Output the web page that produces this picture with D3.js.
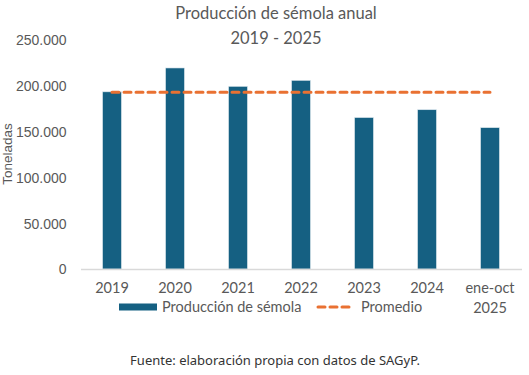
<!DOCTYPE html>
<html>
<head>
<meta charset="utf-8">
<script src="https://cdn.jsdelivr.net/npm/d3@7"></script>
<style>
body { margin: 0; background: #fff; }
text { font-family: Lato, "Noto Sans", sans-serif; }
</style>
</head>
<body>
<div id="chart"></div>
<script>
// DATA -----------------------------------------------------
var categories = ["2019", "2020", "2021", "2022", "2023", "2024", "ene-oct 2025"];
var produccion = [193000, 219000, 199000, 205500, 165000, 173500, 154000];
var promedio = [192600, 192600, 192600, 192600, 192600, 192600, 192600];
var yTicks = [0, 50000, 100000, 150000, 200000, 250000];

// STRUCTURE ------------------------------------------------
var W = 529, H = 375;
var plotLeft = 80.5, plotRight = 521.5, plotTop = 39.5, plotBottom = 269;
var color_bar = "#156082", color_avg = "#E97132", color_text = "#595959";

var svg = d3.select("#chart").append("svg")
.attr("width", W)
.attr("height", H);

var x = d3.scaleBand()
.domain(categories)
.range([plotLeft, plotRight])
.paddingInner(0.7)
.paddingOuter(0.35);

var y = d3.scaleLinear()
.domain([0, 250000])
.range([plotBottom, plotTop]);

var fmt = function(d) { return d3.format(",")(d).replace(/,/g, "."); };

// Y axis (labels only)
svg.append("g")
.attr("transform", "translate(" + (plotLeft - 14) + ",0)")
.call(d3.axisLeft(y).tickValues(yTicks).tickSize(0).tickFormat(fmt))
.call(function(g) {
g.select(".domain").remove();
g.selectAll("text")
.attr("x", 0)
.attr("dy", "0.35em")
.style("font-size", "14px")
.style("font-family", "'Liberation Sans', Arial, sans-serif")
.style("fill", color_text);
});

// bars
svg.append("g").selectAll("rect")
.data(produccion)
.enter()
.append("rect")
.attr("x", function(d, i) { return x(categories[i]); })
.attr("y", function(d) { return y(d); })
.attr("width", x.bandwidth())
.attr("height", function(d) { return y(0) - y(d); })
.style("fill", color_bar)
.style("stroke", "#dfe9ef")
.style("stroke-width", 0.6);

// X axis
svg.append("g")
.attr("transform", "translate(0," + plotBottom + ")")
.call(d3.axisBottom(x).tickSize(0).tickSizeOuter(0))
.call(function(g) {
g.select(".domain").attr("stroke", "#d9d9d9").attr("stroke-width", 1.3);
g.selectAll(".tick text").remove();
g.selectAll(".tick").each(function(d) {
var t = d3.select(this).append("text")
.attr("y", 24)
.attr("text-anchor", "middle")
.style("font-size", "14.5px")
.style("fill", color_text);
var parts = d.split(" ");
parts.forEach(function(p, k) {
t.append("tspan").attr("x", 0).attr("dy", k === 0 ? 0 : 20).text(p);
});
});
});

// average line
var line = d3.line()
.x(function(d, i) { return x(categories[i]) + x.bandwidth() / 2; })
.y(function(d) { return y(d); });

svg.append("path")
.datum(promedio)
.attr("d", line)
.style("fill", "none")
.style("stroke", color_avg)
.style("stroke-width", 3)
.style("stroke-dasharray", "7,5")
.style("stroke-linecap", "round");

// LEGEND ---------------------------------------------------
var legend = svg.append("g");
legend.append("rect")
.attr("x", 119).attr("y", 303.5)
.attr("width", 38).attr("height", 7)
.style("fill", color_bar);
legend.append("text")
.attr("x", 162).attr("y", 312)
.style("font-size", "14.5px")
.style("fill", color_text)
.text("Producción de sémola");
legend.append("line")
.attr("x1", 318).attr("x2", 354)
.attr("y1", 307).attr("y2", 307)
.style("stroke", color_avg)
.style("stroke-width", 3)
.style("stroke-dasharray", "7,5")
.style("stroke-linecap", "round");
legend.append("text")
.attr("x", 361).attr("y", 312)
.style("font-size", "14.5px")
.style("fill", color_text)
.text("Promedio");

// TEXT -----------------------------------------------------
svg.append("text")
.attr("x", 276).attr("y", 19)
.attr("text-anchor", "middle")
.style("font-size", "16.5px")
.style("fill", color_text)
.text("Producción de sémola anual");
svg.append("text")
.attr("x", 276).attr("y", 44)
.attr("text-anchor", "middle")
.style("font-size", "16.5px")
.style("fill", color_text)
.text("2019 - 2025");

svg.append("text")
.attr("transform", "translate(12,154) rotate(-90)")
.attr("text-anchor", "middle")
.style("font-size", "13.5px")
.style("font-family", "'Liberation Sans', Arial, sans-serif")
.style("fill", color_text)
.text("Toneladas");

svg.append("text")
.attr("x", 275).attr("y", 365)
.attr("text-anchor", "middle")
.style("font-size", "13px")
.style("font-family", "'Noto Sans', sans-serif")
.style("fill", "#333")
.text("Fuente: elaboración propia con datos de SAGyP.");
</script>
</body>
</html>
